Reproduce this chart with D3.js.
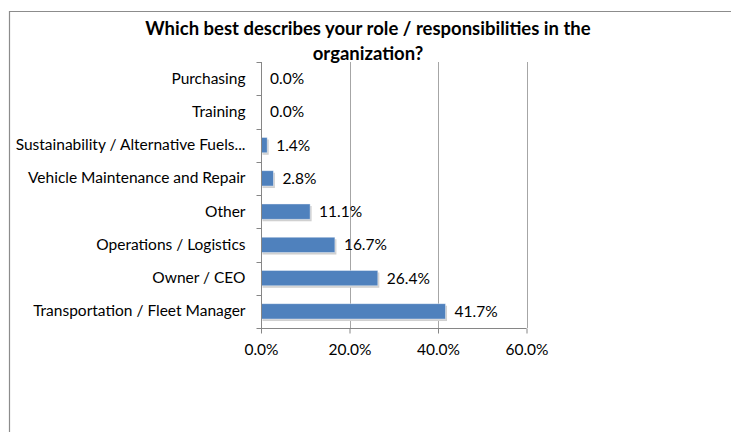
<!DOCTYPE html>
<html>
<head>
<meta charset="utf-8">
<script src="https://cdn.jsdelivr.net/npm/d3@7"></script>
<style>
  html, body { margin: 0; padding: 0; background: #fff; }
  svg { display: block; }
  text { font-family: Lato, "Open Sans", sans-serif; fill: #000; }
</style>
</head>
<body>
<svg id="chart" width="731" height="432"></svg>
<script>
// Survey responses: role / responsibilities in the organization (% of respondents)
const categories = [
  "Purchasing",
  "Training",
  "Sustainability / Alternative Fuels...",
  "Vehicle Maintenance and Repair",
  "Other",
  "Operations / Logistics",
  "Owner / CEO",
  "Transportation / Fleet Manager"
];
const values = [0.0, 0.0, 1.4, 2.8, 11.1, 16.7, 26.4, 41.7];
const xTicks = [0, 20, 40, 60];
const titleLines = [
  "Which best describes your role / responsibilities in the",
  "organization?"
];

const svg = d3.select("#chart");
const W = 731, H = 432;
const plot = { left: 261, right: 526.5, top: 62, bottom: 328 };
const axisColor = "#868686";
const gridColor = "#a6a6a6";
const barColor = "#4f81bd";
const labelSize = 15.5;

// chart frame (extends past the right edge)
svg.append("path")
  .attr("d", `M9.5,${H} V11.5 H${W + 5}`)
  .attr("fill", "none")
  .attr("stroke", "#8c8c8c")
  .attr("stroke-width", 1.2);

const x = d3.scaleLinear().domain([0, 60]).range([plot.left, plot.right]);
const y = d3.scaleBand()
  .domain(categories)
  .range([plot.top, plot.bottom])
  .paddingInner(0.54)
  .paddingOuter(0.27);

// vertical gridlines
svg.append("g")
  .selectAll("line")
  .data(xTicks.filter(t => t > 0))
  .join("line")
  .attr("x1", d => Math.round(x(d)) + 0.5)
  .attr("x2", d => Math.round(x(d)) + 0.5)
  .attr("y1", plot.top)
  .attr("y2", plot.bottom)
  .attr("stroke", gridColor)
  .attr("stroke-width", 1);

// bars with a soft drop shadow
const rows = values.map((v, i) => ({ v, c: categories[i] }));
const barG = svg.append("g");
barG.selectAll("rect.shadow")
  .data(rows.filter(d => d.v > 0))
  .join("rect")
  .attr("class", "shadow")
  .attr("x", x(0) + 1.5)
  .attr("y", d => y(d.c) + 2)
  .attr("width", d => x(d.v) - x(0))
  .attr("height", y.bandwidth())
  .attr("fill", "#d0d0d0");
barG.selectAll("rect.bar")
  .data(rows.filter(d => d.v > 0))
  .join("rect")
  .attr("class", "bar")
  .attr("x", x(0))
  .attr("y", d => y(d.c))
  .attr("width", d => x(d.v) - x(0))
  .attr("height", y.bandwidth())
  .attr("fill", barColor)
  .attr("stroke", "#ffffff")
  .attr("stroke-opacity", 0.5)
  .attr("stroke-width", 0.8);

// value labels
svg.append("g")
  .selectAll("text")
  .data(rows)
  .join("text")
  .attr("x", d => x(d.v) + 9)
  .attr("y", d => y(d.c) + y.bandwidth() / 2)
  .attr("dy", "0.35em")
  .attr("font-size", labelSize)
  .text(d => d3.format(".1f")(d.v) + "%");

// category axis
const yAxis = svg.append("g")
  .attr("transform", `translate(${plot.left + 0.5},0)`)
  .call(d3.axisLeft(y).tickSize(0).tickPadding(16));
yAxis.select(".domain").attr("stroke", axisColor).attr("d", `M0,${plot.top}V${plot.bottom}`);
yAxis.selectAll(".tick text")
  .attr("font-size", labelSize)
  .attr("font-family", "Lato, 'Open Sans', sans-serif")
  .attr("fill", "#000");
// band boundary ticks
const bounds = d3.range(categories.length + 1).map(i => plot.top + i * y.step());
yAxis.append("g").selectAll("line")
  .data(bounds)
  .join("line")
  .attr("x1", -5).attr("x2", 0)
  .attr("y1", d => Math.round(d) + 0.5)
  .attr("y2", d => Math.round(d) + 0.5)
  .attr("stroke", axisColor);

// value axis
const xAxis = svg.append("g")
  .attr("transform", `translate(0,${plot.bottom + 0.5})`)
  .call(d3.axisBottom(x).tickValues(xTicks).tickSize(5).tickPadding(10)
    .tickFormat(d => d3.format(".1f")(d) + "%"));
xAxis.select(".domain").attr("stroke", axisColor).attr("d", `M${plot.left},0H${plot.right}`);
xAxis.selectAll(".tick line").attr("stroke", axisColor);
xAxis.selectAll(".tick text")
  .attr("font-size", labelSize)
  .attr("font-family", "Lato, 'Open Sans', sans-serif")
  .attr("fill", "#000");

// title
svg.append("g")
  .selectAll("text")
  .data(titleLines)
  .join("text")
  .attr("x", 368)
  .attr("y", (d, i) => 35 + i * 25)
  .attr("text-anchor", "middle")
  .attr("font-size", 18.5)
  .attr("font-weight", "bold")
  .text(d => d);
</script>
</body>
</html>
